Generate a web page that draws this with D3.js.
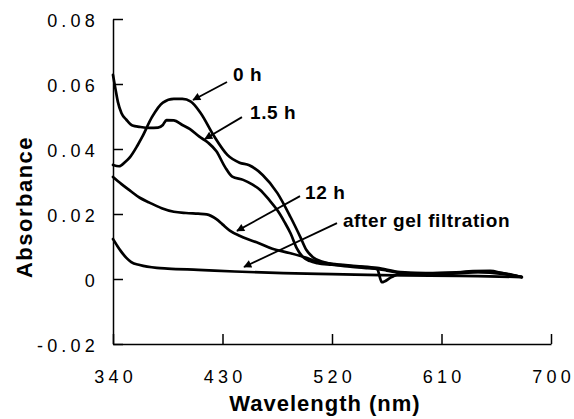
<!DOCTYPE html>
<html>
<head>
<meta charset="utf-8">
<script src="https://cdn.jsdelivr.net/npm/d3@7"></script>
<style>
  html, body { margin: 0; padding: 0; background: #fff; }
  svg { display: block; }
  text { font-family: "Liberation Sans", Arial, Helvetica, sans-serif; fill: #000; }
</style>
</head>
<body>
<svg id="chart" width="574" height="419"></svg>
<script>
// ---- data ----
const xTicks = [340, 430, 520, 610, 700];
const yTicks = [-0.02, 0, 0.02, 0.04, 0.06, 0.08];
const yTickLabels = ["-0.02", "0", "0.02", "0.04", "0.06", "0.08"];

const h0Wavelength = [340,345,350,354,360,364,372,381,390,397,404,412,423,434,444,452,463,475,486,494,499,504,513,520,535,551,557,565,576,600,617,636,650,660,676];
const h0Absorbance = [0.0351,0.0347,0.0360,0.0375,0.0410,0.0437,0.0498,0.0543,0.0554,0.0554,0.0546,0.0511,0.0440,0.0382,0.0358,0.0350,0.0320,0.0265,0.0190,0.0129,0.0089,0.0068,0.0052,0.0046,0.0040,0.0034,0.0031,0.0026,0.0019,0.0018,0.0018,0.0024,0.0025,0.0018,0.0006];

const h15Wavelength = [340,342,344,347,351,356,362,370,377,381,384,390,397,403,411,418,425,432,438,447,454,461,468,475,481,486,491,496,502,508,520,535,551,557,561,569,576,600,636,650,676];
const h15Absorbance = [0.0628,0.0585,0.0545,0.0510,0.0490,0.0472,0.0468,0.0465,0.0466,0.0474,0.0489,0.0488,0.0474,0.0462,0.0438,0.0420,0.0393,0.0345,0.0315,0.0305,0.0292,0.0274,0.0245,0.0212,0.0175,0.0140,0.0095,0.0068,0.0055,0.0049,0.0044,0.0038,0.0033,0.0031,-0.0010,0.0006,0.0016,0.0017,0.0022,0.0022,0.0006];

const h12Wavelength = [340,347,354,362,370,380,390,400,410,417,425,430,436,444,451,458,471,485,499,508,520,540,557,576,600,617,640,660,676];
const h12Absorbance = [0.0314,0.0292,0.0272,0.0250,0.0235,0.0218,0.0207,0.0203,0.0201,0.0199,0.0184,0.0168,0.0149,0.0133,0.0122,0.0113,0.0093,0.0080,0.0065,0.0053,0.0047,0.0040,0.0034,0.0021,0.0017,0.0016,0.0021,0.0016,0.0006];

const gelWavelength = [340,343,346,351,355,362,376,385,410,440,480,520,560,600,640,676];
const gelAbsorbance = [0.0123,0.0105,0.0088,0.0065,0.0052,0.0043,0.0034,0.0032,0.0028,0.0023,0.0018,0.0015,0.0012,0.0010,0.0009,0.0006];

// curve labels: text anchor point and arrow (from -> to), in data units
const labelNames = ["0 h", "1.5 h", "12 h", "after gel filtration"];
const labelAt = [[438.6, 0.0609], [452.6, 0.0492], [497.8, 0.0245], [529.0, 0.0161]];
const arrowFrom = [[433.7, 0.0606], [446.0, 0.0498], [493.7, 0.0255], [524.1, 0.0172]];
const arrowTo = [[405.8, 0.0551], [415.6, 0.0431], [441.9, 0.0148], [447.7, 0.0037]];

// ---- layout ----
const svg = d3.select("#chart");
const plotLeft = 113, plotRight = 551, plotTop = 19, plotBottom = 344;

const x = d3.scaleLinear().domain([340, 700]).range([plotLeft, plotRight]);
const y = d3.scaleLinear().domain([-0.02, 0.08]).range([plotBottom, plotTop]);

const tickFont = 18, tickSpacing = 4.2;

// y axis (ticks pointing inward)
const yAxis = d3.axisLeft(y)
  .tickValues(yTicks)
  .tickFormat((d, i) => yTickLabels[i])
  .tickSizeInner(-10)
  .tickSizeOuter(0)
  .tickPadding(14);
const gy = svg.append("g").attr("transform", `translate(${plotLeft},0)`).call(yAxis);
gy.selectAll("path, line").attr("stroke", "#000").attr("stroke-width", 1.5);
gy.selectAll("text")
  .style("font-size", tickFont + "px")
  .style("letter-spacing", tickSpacing + "px")
  .style("font-family", '"Liberation Sans", Arial, sans-serif')
  .attr("fill", "#000")
  .attr("dy", "0.44em");

// x axis (ticks pointing inward)
const xAxis = d3.axisBottom(x)
  .tickValues(xTicks)
  .tickFormat(d3.format("d"))
  .tickSizeInner(-10)
  .tickSizeOuter(0)
  .tickPadding(26);
const gx = svg.append("g").attr("transform", `translate(0,${plotBottom})`).call(xAxis);
gx.selectAll("path, line").attr("stroke", "#000").attr("stroke-width", 1.5);
gx.selectAll("text")
  .style("font-size", tickFont + "px")
  .style("letter-spacing", tickSpacing + "px")
  .style("font-family", '"Liberation Sans", Arial, sans-serif')
  .attr("fill", "#000")
  .attr("dx", tickSpacing / 2);

// axis titles
svg.append("text")
  .attr("x", 325)
  .attr("y", 411)
  .attr("text-anchor", "middle")
  .style("font-size", "22px")
  .style("font-weight", "bold")
  .style("letter-spacing", "1px")
  .text("Wavelength (nm)");

svg.append("text")
  .attr("transform", "translate(32,207) rotate(-90)")
  .attr("text-anchor", "middle")
  .style("font-size", "22px")
  .style("font-weight", "bold")
  .style("letter-spacing", "1.5px")
  .text("Absorbance");

// series
const series = [
  [h0Wavelength, h0Absorbance],
  [h15Wavelength, h15Absorbance],
  [h12Wavelength, h12Absorbance],
  [gelWavelength, gelAbsorbance]
];
const line = d3.line()
  .x(d => x(d[0]))
  .y(d => y(d[1]))
  .curve(d3.curveMonotoneX);

series.forEach(([wl, ab]) => {
  svg.append("path")
    .datum(wl.map((w, i) => [w, ab[i]]))
    .attr("fill", "none")
    .attr("stroke", "#000")
    .attr("stroke-width", 2.7)
    .attr("stroke-linejoin", "round")
    .attr("stroke-linecap", "round")
    .attr("d", line);
});

// arrows
svg.append("defs").append("marker")
  .attr("id", "arrow")
  .attr("viewBox", "0 0 10 10")
  .attr("refX", 9)
  .attr("refY", 5)
  .attr("markerWidth", 11)
  .attr("markerHeight", 8)
  .attr("markerUnits", "userSpaceOnUse")
  .attr("orient", "auto")
  .append("path")
  .attr("d", "M0,0 L10,5 L0,10 Z")
  .attr("fill", "#000");

labelNames.forEach((name, i) => {
  svg.append("line")
    .attr("x1", x(arrowFrom[i][0])).attr("y1", y(arrowFrom[i][1]))
    .attr("x2", x(arrowTo[i][0])).attr("y2", y(arrowTo[i][1]))
    .attr("stroke", "#000")
    .attr("stroke-width", 1.8)
    .attr("marker-end", "url(#arrow)");
  svg.append("text")
    .attr("x", x(labelAt[i][0]))
    .attr("y", y(labelAt[i][1]))
    .style("font-size", "19px")
    .style("font-weight", "bold")
    .style("letter-spacing", "0.6px")
    .text(name);
});
</script>
</body>
</html>
